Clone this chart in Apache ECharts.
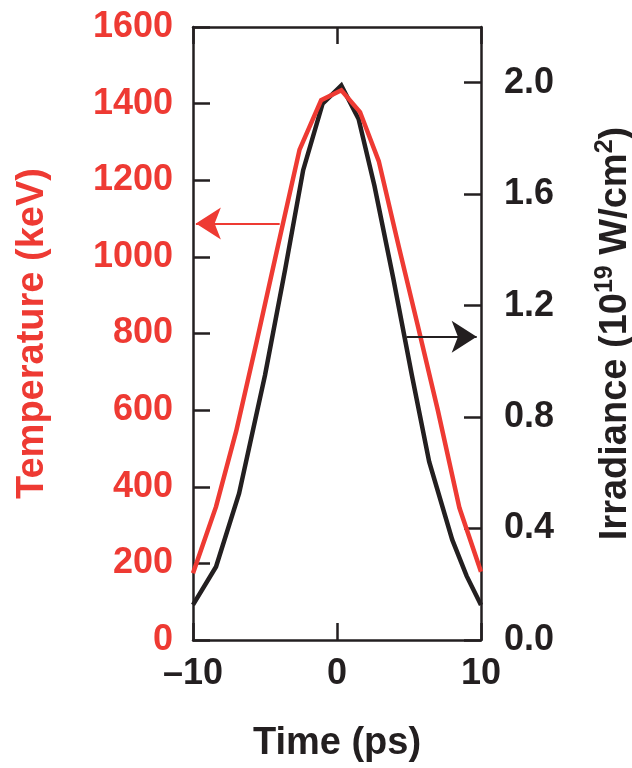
<!DOCTYPE html>
<html>
<head>
<meta charset="utf-8">
<script src="https://cdn.jsdelivr.net/npm/echarts@6/dist/echarts.min.js"></script>
<style>
html,body{margin:0;padding:0;background:#fff;}
#c{width:632px;height:768px;}
</style>
</head>
<body>
<div id="c"></div>
<script>
// ---- data ----
const timeRed = [-10, -8.4, -7.0, -5.6, -4.2, -2.6, -1.1, 0.3, 1.6, 2.9, 4.3, 5.6, 7.0, 8.5, 10];
const temperature = [174, 348, 545, 775, 1012, 1280, 1409, 1435, 1378, 1250, 1025, 822, 600, 345, 178];
const timeBlack = [-10, -8.4, -6.8, -5.0, -3.6, -2.35, -1.0, 0.3, 1.5, 2.6, 3.9, 5.2, 6.4, 8.0, 9.0, 10];
const irradiance = [0.126, 0.263, 0.526, 0.95, 1.33, 1.686, 1.925, 1.99, 1.87, 1.63, 1.30, 0.95, 0.64, 0.36, 0.23, 0.126];

const timeTicks = [-10, 0, 10];
const tempTicks = [0, 200, 400, 600, 800, 1000, 1200, 1400, 1600];
const irrTicks = [0.0, 0.4, 0.8, 1.2, 1.6, 2.0];
const irrMax = 2.2;

// annotation arrows: [fromTime, toTime, level]
const tempArrow = [-3.98, -9.8, 1087];
const irrArrow = [4.83, 9.7, 1.088];

const RED = '#EE3A33';
const BLK = '#231F20';
const FONT = 'Liberation Sans';

const chart = echarts.init(document.getElementById('c'), null, {renderer: 'canvas'});

const axisLineStyle = {color: BLK, width: 2.5};

chart.setOption({
  animation: false,
  backgroundColor: '#fff',
  grid: {left: 193, right: 151, top: 27, bottom: 128, containLabel: false, outerBoundsMode: 'none'},
  xAxis: [{
    type: 'value', position: 'bottom',
    min: timeTicks[0], max: timeTicks[timeTicks.length - 1], interval: timeTicks[1] - timeTicks[0],
    axisLine: {show: true, onZero: false, lineStyle: axisLineStyle},
    axisTick: {show: true, inside: true, length: 17, lineStyle: axisLineStyle},
    splitLine: {show: false},
    axisLabel: {
      margin: 16, color: BLK, fontFamily: FONT, fontWeight: 'bold', fontSize: 36,
      formatter: v => (v < 0 ? '\u2013' + Math.abs(v) : String(v))
    },
    name: 'Time (ps)', nameLocation: 'middle', nameGap: 85,
    nameTextStyle: {color: BLK, fontFamily: FONT, fontWeight: 'bold', fontSize: 38}
  }, {
    type: 'value', position: 'top',
    min: timeTicks[0], max: timeTicks[timeTicks.length - 1], interval: timeTicks[1] - timeTicks[0],
    axisLine: {show: true, onZero: false, lineStyle: axisLineStyle},
    axisTick: {show: true, inside: true, length: 17, lineStyle: axisLineStyle},
    splitLine: {show: false},
    axisLabel: {show: false}
  }],
  yAxis: [{
    type: 'value', position: 'left',
    min: tempTicks[0], max: tempTicks[tempTicks.length - 1], interval: tempTicks[1] - tempTicks[0],
    axisLine: {show: true, onZero: false, lineStyle: axisLineStyle},
    axisTick: {show: true, inside: true, length: 17, lineStyle: axisLineStyle},
    splitLine: {show: false},
    axisLabel: {margin: 20, color: RED, fontFamily: FONT, fontWeight: 'bold', fontSize: 36,
      formatter: v => String(v)},
    name: 'Temperature (keV)', nameLocation: 'middle', nameGap: 141, nameRotate: 90,
    nameTextStyle: {color: RED, fontFamily: FONT, fontWeight: 'bold', fontSize: 38}
  }, {
    type: 'value', position: 'right',
    min: irrTicks[0], max: irrMax, interval: irrTicks[1] - irrTicks[0],
    axisLine: {show: true, onZero: false, lineStyle: axisLineStyle},
    axisTick: {show: true, inside: true, length: 17, lineStyle: axisLineStyle},
    splitLine: {show: false},
    axisLabel: {
      margin: 23, color: BLK, fontFamily: FONT, fontWeight: 'bold', fontSize: 36,
      showMaxLabel: false,
      formatter: v => (irrTicks.some(t => Math.abs(t - v) < 1e-6) ? v.toFixed(1) : '')
    },
    name: '{n|Irradiance (10}{s|19}{n| W/cm}{s|2}{n|)}', nameLocation: 'middle', nameGap: 112, nameRotate: 90,
    nameTextStyle: {
      color: BLK, fontFamily: FONT, fontWeight: 'bold', fontSize: 38,
      rich: {
        n: {color: BLK, fontFamily: FONT, fontWeight: 'bold', fontSize: 38, lineHeight: 42, verticalAlign: 'bottom'},
        s: {color: BLK, fontFamily: FONT, fontWeight: 'bold', fontSize: 25, lineHeight: 42, verticalAlign: 'top'}
      }
    }
  }],
  series: [{
    name: 'Irradiance', type: 'line', xAxisIndex: 0, yAxisIndex: 1,
    data: timeBlack.map((t, i) => [t, irradiance[i]]),
    showSymbol: false, symbol: 'none',
    lineStyle: {color: BLK, width: 4.5, join: 'miter'},
    markLine: {
      silent: true, symbol: ['none', 'arrow'], symbolSize: [24, 25],
      label: {show: false},
      lineStyle: {color: BLK, width: 2, type: 'solid'},
      data: [[{coord: [irrArrow[0], irrArrow[2]]}, {coord: [irrArrow[1], irrArrow[2]]}]]
    }
  }, {
    name: 'Temperature', type: 'line', xAxisIndex: 0, yAxisIndex: 0,
    data: timeRed.map((t, i) => [t, temperature[i]]),
    showSymbol: false, symbol: 'none',
    lineStyle: {color: RED, width: 4.5, join: 'miter'},
    markLine: {
      silent: true, symbol: ['none', 'arrow'], symbolSize: [24, 25],
      label: {show: false},
      lineStyle: {color: RED, width: 2, type: 'solid'},
      data: [[{coord: [tempArrow[0], tempArrow[2]]}, {coord: [tempArrow[1], tempArrow[2]]}]]
    }
  }]
});
</script>
</body>
</html>
